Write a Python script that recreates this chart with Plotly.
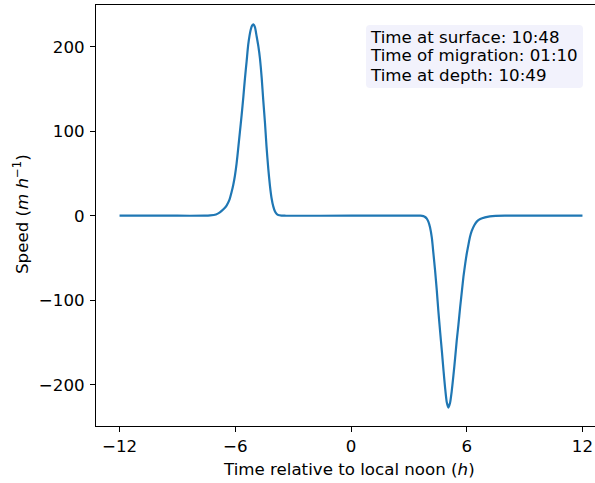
import plotly.graph_objects as go

# Time relative to local noon (h) and speed (m h^-1)
hours = [-12, -9, -7.6, -7.3, -7.0, -6.8, -6.6, -6.45, -6.3, -6.19, -6.1, -6.02,
         -5.93, -5.85, -5.76, -5.67, -5.58, -5.50, -5.41, -5.33, -5.26, -5.20,
         -5.13, -5.06, -4.98, -4.89, -4.80, -4.72, -4.63, -4.55, -4.46, -4.38,
         -4.29, -4.20, -4.12, -4.03, -3.94, -3.85, -3.77, -3.6, -3.4,
         0, 3.6, 3.75, 3.84, 3.93, 4.01, 4.10, 4.19, 4.27, 4.36, 4.45, 4.53,
         4.62, 4.71, 4.80, 4.88, 4.96, 5.05, 5.13, 5.22, 5.31, 5.40, 5.48,
         5.57, 5.66, 5.75, 5.83, 5.92, 6.00, 6.09, 6.17, 6.26, 6.40, 6.52,
         6.7, 6.95, 7.2, 7.5, 8, 12]
speed = [0, 0, 0, 0.3, 1.5, 4, 8, 12, 19, 28, 37, 47,
         62, 79, 99, 119, 141, 162, 183, 202, 213, 220,
         225, 226.5, 223, 212, 200, 186, 163, 137, 110, 82,
         56, 35, 21, 11, 5, 2, 0.8, 0.2, 0,
         0, 0, -0.5, -1.5, -3.5, -7, -14, -26, -44, -65, -89, -113,
         -137, -160, -184, -204, -220, -227, -222, -208, -189, -168, -148,
         -129, -108, -89, -72, -57, -45, -34, -25, -18, -11, -7,
         -4, -2, -0.8, -0.2, 0, 0]

x_ticks = [-12, -6, 0, 6, 12]
y_ticks = [-200, -100, 0, 100, 200]
info_lines = ["Time at surface: 10:48", "Time of migration: 01:10", "Time at depth: 10:49"]

FONT = "DejaVu Sans"
FS = 16.67

W, H = 595, 483
ML, MR, MT, MB = 96, 0, 5, 57
PW, PH = W - ML - MR, H - MT - MB


def px_x(px):
    return (px - ML) / PW


def px_y(py):
    return (H - MB - py) / PH


fig = go.Figure()
fig.add_trace(go.Scatter(x=hours, y=speed, mode="lines",
                         line=dict(color="#1f77b4", width=2.2, shape="spline", smoothing=0.6),
                         showlegend=False, hoverinfo="skip"))

axis_common = dict(showgrid=False, zeroline=False, showline=True, linecolor="black",
                   linewidth=1.1, ticks="outside", ticklen=5, tickwidth=1.1,
                   tickcolor="black", tickfont=dict(family=FONT, size=FS, color="black"))

fig.update_xaxes(range=[-13.22, 12.65], tickvals=x_ticks, mirror=True, **axis_common)
fig.update_yaxes(range=[-248.8, 249.3], tickvals=y_ticks, mirror=False,
                 ticklabelstandoff=2, **axis_common)

# rounded info box
bx0, bx1, by0, by1, r = 366, 583, 25, 88, 4
x0, x1 = px_x(bx0), px_x(bx1)
yt, yb = px_y(by0), px_y(by1)
rx, ry = r / PW, r / PH
path = (f"M {x0+rx},{yt} L {x1-rx},{yt} Q {x1},{yt} {x1},{yt-ry} "
        f"L {x1},{yb+ry} Q {x1},{yb} {x1-rx},{yb} L {x0+rx},{yb} "
        f"Q {x0},{yb} {x0},{yb+ry} L {x0},{yt-ry} Q {x0},{yt} {x0+rx},{yt} Z")
fig.add_shape(type="path", path=path, xref="paper", yref="paper",
              fillcolor="#f2f2fc", line=dict(width=0), layer="above")

for line_text, cy in zip(info_lines, [37, 56, 75]):
    fig.add_annotation(text=line_text, xref="paper", yref="paper",
                       x=px_x(368), y=px_y(cy), xanchor="left", yanchor="middle",
                       showarrow=False, font=dict(family=FONT, size=FS, color="black"))

fig.add_annotation(text="Time relative to local noon (<i>h</i>)", xref="paper", yref="paper",
                   x=px_x(349), y=px_y(470), xanchor="center", yanchor="middle", showarrow=False,
                   font=dict(family=FONT, size=FS, color="black"))
fig.add_annotation(text="Speed (<i>m h</i><sup>\u22121</sup>)", xref="paper", yref="paper",
                   x=px_x(21), y=px_y(214), xanchor="center", yanchor="middle", textangle=-90,
                   showarrow=False, font=dict(family=FONT, size=FS, color="black"))

fig.update_layout(width=W, height=H, margin=dict(l=ML, r=MR, t=MT, b=MB),
                  paper_bgcolor="white", plot_bgcolor="white",
                  font=dict(family=FONT, size=FS, color="black"))

fig.write_html("out.html")
